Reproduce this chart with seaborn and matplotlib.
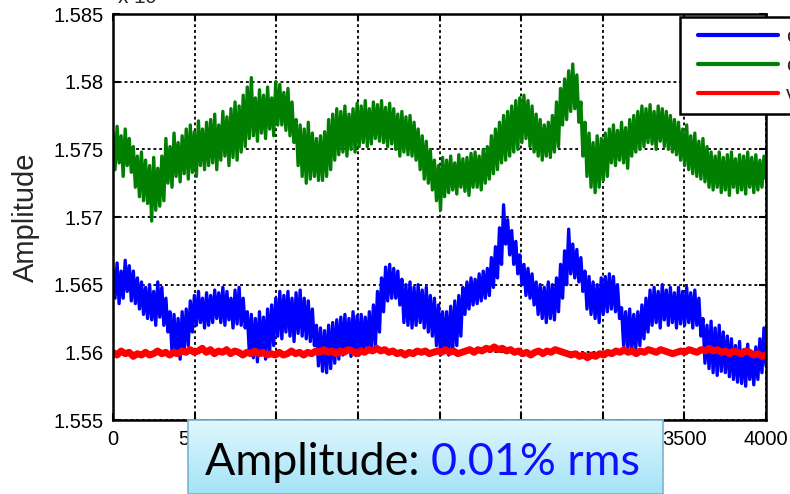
import numpy as np
import pandas as pd
import matplotlib
matplotlib.use("Agg")
import matplotlib.pyplot as plt
from matplotlib.legend_handler import HandlerLine2D
import seaborn as sns

# Raw counts sampled every 12.5 points along the record (0 .. 4000);
# each line holds consecutive (high, low) swings of the noisy signal.
ch1 = [15662, 15640, 15666, 15636, 15660, 15640, 15668, 15645, 15664, 15638, 15660, 15636, 15655, 15632,
       15652, 15628, 15648, 15625, 15650, 15624, 15645, 15620, 15652, 15626, 15648, 15620, 15640, 15615,
       15630, 15600, 15628, 15598, 15625, 15595, 15630, 15602, 15632, 15605,
       15638, 15615, 15642, 15620, 15645, 15622, 15640, 15618, 15644, 15620, 15642, 15622, 15646, 15625,
       15644, 15622, 15648, 15620, 15645, 15624, 15640, 15618, 15646, 15621, 15648, 15620, 15640, 15618,
       15630, 15600, 15628, 15596, 15625, 15593, 15630, 15598, 15626, 15595, 15632, 15600, 15635, 15605,
       15640, 15612, 15645, 15610, 15642, 15615, 15645, 15612, 15640, 15608, 15644, 15614, 15646, 15612,
       15640, 15610, 15638, 15608, 15632, 15605,
       15620, 15590, 15618, 15586, 15616, 15585, 15620, 15588, 15622, 15592, 15624, 15595,
       15626, 15598, 15628, 15600, 15625, 15597, 15630, 15600, 15627, 15598, 15628, 15602, 15626, 15600,
       15630, 15602, 15635, 15605, 15645, 15615,
       15655, 15630, 15663, 15638, 15665, 15640, 15662, 15640, 15660, 15635,
       15654, 15622, 15650, 15620, 15652, 15618, 15648, 15620, 15650, 15622, 15646, 15618, 15648, 15615,
       15642, 15612, 15640, 15605, 15635, 15598, 15630, 15600,
       15630, 15598, 15634, 15600, 15638, 15605, 15642, 15612,
       15648, 15628, 15652, 15632, 15655, 15635, 15654, 15636, 15658, 15638, 15660, 15640, 15662, 15642,
       15670, 15648,
       15678, 15655, 15692, 15665, 15709, 15680, 15698, 15672, 15690, 15665,
       15682, 15658, 15672, 15650, 15665, 15642, 15662, 15640, 15658, 15635,
       15652, 15628, 15650, 15625, 15648, 15622, 15652, 15625, 15650, 15624, 15655, 15630,
       15665, 15640, 15675, 15650, 15691, 15658, 15680, 15655, 15676, 15652, 15670, 15645,
       15660, 15632, 15656, 15628, 15652, 15625, 15650, 15622, 15655, 15628, 15656, 15630,
       15658, 15632, 15656, 15630, 15650, 15625,
       15633, 15605, 15630, 15602, 15632, 15600, 15628, 15603, 15630, 15605, 15635, 15610, 15640, 15615,
       15646, 15620, 15648, 15622, 15645, 15618, 15650, 15624, 15646, 15620, 15648, 15622, 15644, 15618,
       15648, 15621, 15645, 15620, 15648, 15622, 15644, 15618, 15646, 15620, 15640, 15612,
       15625, 15592, 15620, 15588, 15623, 15585, 15618, 15583, 15620, 15586, 15615, 15585, 15612, 15582,
       15610, 15580, 15605, 15578, 15608, 15577, 15602, 15575, 15606, 15580, 15600, 15576, 15604, 15580,
       15610, 15585, 15618, 15590]

ch2 = [15762, 15735, 15767, 15740, 15760, 15730, 15765, 15738, 15758, 15733,
       15752, 15722, 15745, 15715, 15748, 15712,
       15742, 15710, 15738, 15697, 15744, 15705, 15736, 15708, 15745, 15712,
       15758, 15725, 15752, 15722, 15762, 15730, 15755, 15726, 15760, 15732, 15765, 15728,
       15768, 15733, 15763, 15730, 15771, 15738, 15765, 15735, 15770, 15738,
       15772, 15740, 15776, 15735, 15768, 15742, 15778, 15745, 15774, 15738, 15780, 15744,
       15785, 15742, 15782, 15748,
       15790, 15752, 15796, 15758, 15803, 15760, 15788, 15756, 15794, 15762, 15790, 15758,
       15796, 15765, 15788, 15760, 15800, 15768,
       15798, 15768, 15792, 15764, 15795, 15760, 15785, 15755,
       15772, 15738, 15768, 15730, 15765, 15725, 15770, 15728, 15762, 15730, 15758, 15727,
       15760, 15727, 15763, 15730, 15772, 15735,
       15776, 15742, 15780, 15746, 15778, 15748, 15782, 15745, 15776, 15750, 15780, 15748, 15784, 15752,
       15782, 15755, 15786, 15752, 15780, 15754, 15785, 15758, 15783, 15756, 15786, 15755, 15781, 15752,
       15784, 15754,
       15780, 15750, 15776, 15745, 15778, 15748, 15774, 15746, 15775, 15745, 15770, 15742,
       15765, 15735, 15760, 15728, 15756, 15725, 15750, 15720,
       15742, 15712, 15738, 15705, 15744, 15715,
       15742, 15718, 15745, 15720, 15740, 15717, 15746, 15722, 15743, 15719, 15744, 15716, 15747, 15722,
       15748, 15722, 15745, 15720, 15750, 15725, 15752, 15728, 15760, 15732,
       15765, 15735, 15770, 15740, 15775, 15742, 15778, 15745, 15782, 15748, 15786, 15750,
       15788, 15755, 15790, 15758, 15786, 15752, 15782, 15748, 15776, 15745,
       15772, 15742, 15768, 15745, 15770, 15744, 15775, 15748, 15785, 15752,
       15795, 15768, 15802, 15772, 15808, 15778, 15813, 15780, 15805, 15770,
       15785, 15745, 15770, 15730, 15762, 15722, 15755, 15718, 15760, 15722,
       15758, 15727, 15762, 15730,
       15765, 15740, 15768, 15738, 15764, 15742, 15770, 15740, 15766, 15736, 15772, 15745, 15775, 15748,
       15778, 15750,
       15782, 15752, 15780, 15755, 15783, 15754, 15778, 15750, 15782, 15756, 15780, 15752, 15778, 15750,
       15775, 15748, 15772, 15746,
       15770, 15742, 15765, 15738, 15768, 15735, 15760, 15732, 15762, 15730, 15756, 15728, 15758, 15726,
       15752, 15722,
       15748, 15720, 15745, 15722, 15748, 15718, 15744, 15720, 15746, 15716, 15748, 15722, 15743, 15718,
       15746, 15720, 15745, 15717, 15748, 15722, 15744, 15718, 15746, 15720, 15742, 15722, 15745, 15728]

# Reference channel, sampled every 25 points
vref = [15600, 15598, 15601, 15599, 15600, 15597, 15599, 15598, 15600, 15598, 15599, 15601, 15599, 15600, 15598, 15600, 15599, 15601, 15600, 15602, 15600,
        15601, 15603, 15600, 15602, 15599, 15601, 15600, 15602, 15599, 15601, 15600, 15598, 15600, 15599, 15601, 15599, 15600, 15598, 15599, 15598,
        15600, 15598, 15599, 15601, 15599, 15600, 15598, 15600, 15599, 15601, 15600, 15602, 15600, 15601, 15599, 15601, 15600, 15602, 15601, 15599,
        15601, 15600, 15602, 15601, 15603, 15601, 15602, 15600, 15601, 15599, 15600, 15598, 15600, 15599, 15601, 15600, 15601, 15599, 15600, 15601,
        15600, 15602, 15600, 15601, 15599, 15600, 15601, 15602, 15600, 15602, 15601, 15603, 15602, 15604, 15602, 15603, 15601, 15602, 15600, 15601,
        15599, 15600, 15598, 15600, 15601, 15599, 15601, 15600, 15602, 15601, 15600, 15599, 15598, 15599, 15597, 15598, 15596, 15598, 15597, 15599,
        15598, 15600, 15599, 15601, 15600, 15602, 15600, 15601, 15599, 15601, 15600, 15602, 15601, 15600, 15602, 15601, 15600, 15599, 15600, 15601,
        15600, 15602, 15601, 15600, 15602, 15601, 15603, 15601, 15602, 15600, 15601, 15599, 15601, 15600, 15599, 15601, 15600, 15598, 15599, 15597,
        15598]

series_names = ["ch1", "ch2", "vref"]
series_colors = ["#0000ff", "#007f00", "#ff0000"]

x_ticks = [0, 500, 1000, 1500, 2000, 2500, 3000, 3500, 4000]
y_ticks = [15550, 15600, 15650, 15700, 15750, 15800, 15850]

note_label = "Amplitude: "
note_value = "0.01% rms"

sns.set_style("ticks")
plt.rcParams["font.family"] = ["Liberation Sans", "DejaVu Sans"]

W, H = 790, 494
fig = plt.figure(figsize=(W / 100, H / 100), dpi=100)
ax = fig.add_axes([113 / W, 1 - 420 / H, 653 / W, 406 / H])

frames = []
for name, vals in zip(series_names, [ch1, ch2, vref]):
    frames.append(pd.DataFrame({"sample": np.linspace(0, 4000, len(vals)),
                                "amplitude": vals, "channel": name}))
df = pd.concat(frames, ignore_index=True)

widths = {"ch1": 2.4, "ch2": 2.4, "vref": 5.0}
for name, color in zip(series_names, series_colors):
    sns.lineplot(data=df[df["channel"] == name], x="sample", y="amplitude",
                 color=color, linewidth=widths[name], estimator=None, sort=False,
                 ax=ax, legend=False, label=name)

ax.set_xlim(0, 4000)
ax.set_ylim(15550, 15850)
ax.set_xticks(x_ticks)
ax.set_xticklabels([str(v) for v in x_ticks])
ax.set_yticks(y_ticks)
ax.set_yticklabels(["%g" % (v / 1e4) for v in y_ticks])
ax.set_xlabel("")
ax.set_ylabel("Amplitude", fontsize=21)
ax.yaxis.set_label_coords(-0.112, 0.5)

ax.grid(True, color="black", linestyle=(0, (1.6, 1.6)), linewidth=1.3)
ax.tick_params(direction="in", length=5, width=1.5, top=True, right=True,
               labelsize=14.5, pad=7, colors="black")
for s in ax.spines.values():
    s.set_visible(True)
    s.set_linewidth(1.8)
    s.set_color("black")

# Exponent of the y scale, sitting at the top edge
fig.text(117 / W, 1 - 4 / H, r"x 10$^{4}$", fontsize=15, ha="left", va="baseline")

handles = ax.get_lines()[:3]
leg = ax.legend(handles, series_names, loc="upper left",
                bbox_to_anchor=(680 / W, 1 - 17 / H), bbox_transform=fig.transFigure,
                fontsize=15, frameon=True, fancybox=False, framealpha=1,
                borderpad=0.5, labelspacing=0.47, handlelength=4.2,
                handletextpad=0.4, borderaxespad=0,
                handler_map={h: HandlerLine2D(xpad=0.35) for h in handles})
leg.get_frame().set_edgecolor("black")
leg.get_frame().set_linewidth(1.8)
for line in leg.get_lines():
    line.set_linewidth(3)

# Callout box with gradient fill
bx = fig.add_axes([188 / W, 0, 475 / W, 74 / H])
grad = np.linspace(0, 1, 100).reshape(-1, 1)
top_c = np.array([0xe2, 0xf7, 0xfd]) / 255
bot_c = np.array([0xa3, 0xe3, 0xf7]) / 255
img = top_c[None, None, :] * (1 - grad[..., None]) + bot_c[None, None, :] * grad[..., None]
bx.imshow(img, aspect="auto", extent=(0, 1, 0, 1), origin="upper")
bx.set_xlim(0, 1)
bx.set_ylim(0, 1)
bx.set_xticks([])
bx.set_yticks([])
for s in bx.spines.values():
    s.set_color("#7db3cf")
    s.set_linewidth(1.2)
t1 = bx.text(17 / 475, 19 / 74, note_label, fontsize=32.3, family=["Lato", "DejaVu Sans"],
             color="black", ha="left", va="baseline", transform=bx.transAxes)
bx.annotate(note_value, xy=(1, 0), xycoords=t1, fontsize=32.3,
            family=["Lato", "DejaVu Sans"], color="#1010ff", ha="left", va="bottom")

fig.savefig("out.png", dpi=100)
